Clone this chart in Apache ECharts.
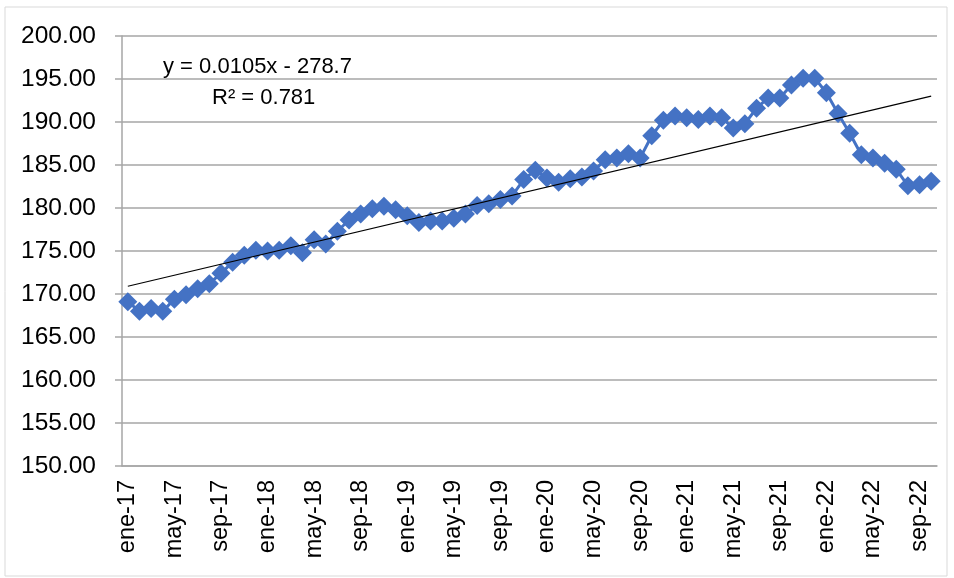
<!DOCTYPE html>
<html>
<head>
<meta charset="utf-8">
<script src="https://cdn.jsdelivr.net/npm/echarts@6/dist/echarts.min.js"></script>
<style>
  html, body { margin: 0; padding: 0; background: #fff; }
  #chart { width: 954px; height: 578px; }
</style>
</head>
<body>
<div id="chart"></div>
<script>
var chart = echarts.init(document.getElementById("chart"));

var months = [
  "ene-17","feb-17","mar-17","abr-17","may-17","jun-17","jul-17","ago-17","sep-17","oct-17","nov-17","dic-17",
  "ene-18","feb-18","mar-18","abr-18","may-18","jun-18","jul-18","ago-18","sep-18","oct-18","nov-18","dic-18",
  "ene-19","feb-19","mar-19","abr-19","may-19","jun-19","jul-19","ago-19","sep-19","oct-19","nov-19","dic-19",
  "ene-20","feb-20","mar-20","abr-20","may-20","jun-20","jul-20","ago-20","sep-20","oct-20","nov-20","dic-20",
  "ene-21","feb-21","mar-21","abr-21","may-21","jun-21","jul-21","ago-21","sep-21","oct-21","nov-21","dic-21",
  "ene-22","feb-22","mar-22","abr-22","may-22","jun-22","jul-22","ago-22","sep-22","oct-22"
];

var values = [
  169.1, 168.0, 168.3, 168.0, 169.4, 169.9, 170.6, 171.2, 172.4, 173.7, 174.5, 175.1,
  175.0, 175.1, 175.6, 174.8, 176.3, 175.8, 177.3, 178.6, 179.3, 179.9, 180.2, 179.8,
  179.1, 178.3, 178.5, 178.5, 178.8, 179.3, 180.3, 180.5, 181.0, 181.4, 183.3, 184.4,
  183.5, 183.0, 183.4, 183.6, 184.3, 185.6, 185.8, 186.3, 185.8, 188.4, 190.2, 190.7,
  190.5, 190.3, 190.7, 190.5, 189.3, 189.8, 191.6, 192.8, 192.8, 194.3, 195.1, 195.1,
  193.4, 191.0, 188.7, 186.2, 185.8, 185.2, 184.5, 182.6, 182.7, 183.1
];

// linear trend endpoints (first and last month)
var trendStart = 170.9;
var trendEnd = 193.0;

var equationText = "y = 0.0105x - 278.7";
var r2Text = "R\u00b2 = 0.781";

var font = "'Liberation Sans', Arial, sans-serif";

chart.setOption({
  animation: false,
  backgroundColor: "#fff",
  grid: { left: 122, right: 17, top: 36, bottom: 112 },
  xAxis: {
    type: "category",
    data: months,
    boundaryGap: true,
    axisLine: { lineStyle: { color: "#a6a6a6", width: 1.5 } },
    axisTick: { interval: 3, length: 7, lineStyle: { color: "#a6a6a6", width: 1.5 } },
    axisLabel: { interval: 3, rotate: 90, margin: 14, color: "#000", fontSize: 23.5, fontFamily: font }
  },
  yAxis: {
    type: "value",
    min: 150,
    max: 200,
    interval: 5,
    axisLine: { show: true, lineStyle: { color: "#a6a6a6", width: 1.5 } },
    axisTick: { show: true, length: 7, lineStyle: { color: "#a6a6a6", width: 1.5 } },
    splitLine: { lineStyle: { color: "#a6a6a6", width: 1.5 } },
    axisLabel: {
      margin: 26, color: "#000", fontSize: 24.5, fontFamily: font,
      formatter: function (v) { return v.toFixed(2); }
    }
  },
  series: [
    {
      type: "line",
      data: values,
      symbol: "diamond",
      symbolSize: 19,
      showAllSymbol: true,
      lineStyle: { color: "#4472c4", width: 3 },
      itemStyle: { color: "#4472c4" },
      markLine: {
        silent: true,
        symbol: "none",
        label: { show: false },
        lineStyle: { color: "#000", width: 1.2, type: "solid" },
        data: [[
          { coord: [months[0], trendStart] },
          { coord: [months[months.length - 1], trendEnd] }
        ]]
      },
      z: 3
    }
  ],
  graphic: [
    {
      type: "rect",
      shape: { x: 5, y: 7, width: 942, height: 569 },
      style: { fill: "none", stroke: "#d9d9d9", lineWidth: 1 },
      silent: true
    },
    {
      type: "text",
      left: 163, top: 56,
      style: { text: equationText, fill: "#000", font: "22px " + font }
    },
    {
      type: "text",
      left: 212, top: 87,
      style: { text: r2Text, fill: "#000", font: "22px " + font }
    }
  ]
});
</script>
</body>
</html>
